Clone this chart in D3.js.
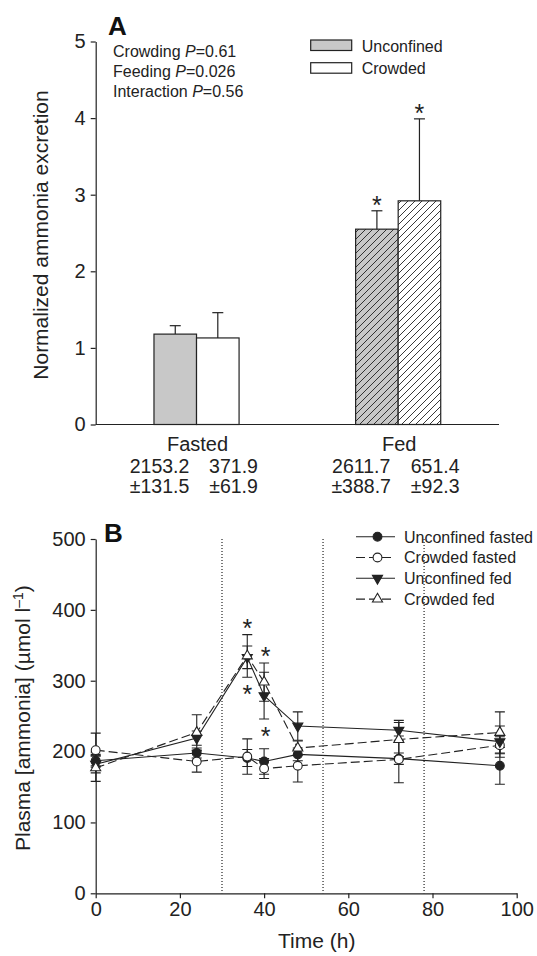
<!DOCTYPE html>
<html>
<head>
<meta charset="utf-8">
<script src="https://cdn.jsdelivr.net/npm/d3@7"></script>
<style>
body { margin: 0; background: #fff; }
svg { display: block; font-family: "Liberation Sans", Arial, sans-serif; }
</style>
</head>
<body>
<div id="chart"></div>
<script>
// ---- panel A data
const groups = ["Fasted", "Fed"];
const treatments = ["Unconfined", "Crowded"];
const unconfinedMean = [1.18, 2.55];
const unconfinedErr = [0.11, 0.24];
const crowdedMean = [1.13, 2.92];
const crowdedErr = [0.33, 1.07];
const starredA = [[false, false], [true, true]];
const absMean = [["2153.2", "371.9"], ["2611.7", "651.4"]];
const absSem = [["±131.5", "±61.9"], ["±388.7", "±92.3"]];
const statsA = [["Crowding", "0.61"], ["Feeding", "0.026"], ["Interaction", "0.56"]];
const yTicksA = [0, 1, 2, 3, 4, 5];

// ---- panel B data
const times = [0, 24, 36, 40, 48, 72, 96];
const seriesNames = ["Unconfined fasted", "Crowded fasted", "Unconfined fed", "Crowded fed"];
const unconfinedFasted = [187, 198, 191, 186, 196, 190, 180];
const unconfinedFastedSem = [7, 7, 12, 18, 9, 8, 26];
const crowdedFasted = [202, 186, 193, 176, 180, 189, 209];
const crowdedFastedSem = [24, 15, 25, 14, 23, 33, 12];
const unconfinedFed = [182, 219, 333, 279, 236, 230, 214];
const unconfinedFedSem = [12, 10, 16, 33, 20, 14, 22];
const crowdedFed = [177, 227, 335, 298, 205, 217, 227];
const crowdedFedSem = [19, 25, 30, 27, 10, 24, 29];
const mealTimes = [30, 54, 78];
const xTicksB = [0, 20, 40, 60, 80, 100];
const yTicksB = [0, 100, 200, 300, 400, 500];
// [time, series index, side]
const starsB = [[36, 3, "up"], [36, 3, "down"], [40, 3, "up"], [40, 2, "down"]];

const ink = "#222";
const width = 537, height = 956;

const svg = d3.select("#chart").append("svg")
    .attr("width", width)
    .attr("height", height);

const defs = svg.append("defs");
function hatch(id, bg) {
  const w = 7;
  const p = defs.append("pattern")
      .attr("id", id)
      .attr("patternUnits", "userSpaceOnUse")
      .attr("width", w).attr("height", w);
  p.append("rect").attr("width", w).attr("height", w).attr("fill", bg);
  p.append("path")
      .attr("d", `M0,${w} L${w},0 M${-w/2},${w/2} L${w/2},${-w/2} M${w/2},${w*1.5} L${w*1.5},${w/2}`)
      .attr("stroke", ink).attr("stroke-width", 0.9);
}
hatch("hatchGrey", "#c8c8c8");
hatch("hatchWhite", "#fff");

function styleAxis(g) {
  g.attr("font-family", null).attr("font-size", null);
  g.selectAll("path, line").attr("stroke", ink).attr("stroke-width", 1.2);
  g.selectAll("text").attr("fill", ink).style("font-size", "20px");
}

// ================= Panel A
const A = {left: 95.7, right: 499, top: 41.5, bottom: 424.5};

const xA = d3.scaleBand()
    .domain(groups)
    .range([A.left, A.right])
    .paddingInner(0.578)
    .paddingOuter(0.289);
const xInner = d3.scaleBand()
    .domain(treatments)
    .range([0, xA.bandwidth()]);
const yA = d3.scaleLinear()
    .domain([0, 5])
    .range([A.bottom, A.top]);

svg.append("g")
    .attr("transform", `translate(${A.left},0)`)
    .call(d3.axisLeft(yA).tickValues(yTicksA).tickFormat(d3.format("d"))
        .tickSize(5).tickSizeOuter(0).tickPadding(5))
    .call(styleAxis);

svg.append("line")
    .attr("x1", A.left).attr("x2", A.right)
    .attr("y1", A.bottom).attr("y2", A.bottom)
    .attr("stroke", ink).attr("stroke-width", 1.2);

const barsA = [];
groups.forEach((g, i) => {
  barsA.push({group: g, trt: "Unconfined", v: unconfinedMean[i], e: unconfinedErr[i], star: starredA[i][0], fed: g === "Fed"});
  barsA.push({group: g, trt: "Crowded", v: crowdedMean[i], e: crowdedErr[i], star: starredA[i][1], fed: g === "Fed"});
});

function barFill(d) {
  if (d.trt === "Unconfined") return d.fed ? "url(#hatchGrey)" : "#c8c8c8";
  return d.fed ? "url(#hatchWhite)" : "#fff";
}

const barG = svg.append("g");
barG.selectAll("rect")
    .data(barsA)
    .enter()
    .append("rect")
    .attr("x", d => xA(d.group) + xInner(d.trt))
    .attr("y", d => yA(d.v))
    .attr("width", xInner.bandwidth())
    .attr("height", d => yA(0) - yA(d.v))
    .attr("fill", barFill)
    .attr("stroke", ink)
    .attr("stroke-width", 1.2);

const cx = d => xA(d.group) + xInner(d.trt) + xInner.bandwidth() / 2;
barG.selectAll("line.err")
    .data(barsA)
    .enter()
    .append("line")
    .attr("x1", cx).attr("x2", cx)
    .attr("y1", d => yA(d.v)).attr("y2", d => yA(d.v + d.e))
    .attr("stroke", ink).attr("stroke-width", 1.2);
barG.selectAll("line.cap")
    .data(barsA)
    .enter()
    .append("line")
    .attr("x1", d => cx(d) - 5.5).attr("x2", d => cx(d) + 5.5)
    .attr("y1", d => yA(d.v + d.e)).attr("y2", d => yA(d.v + d.e))
    .attr("stroke", ink).attr("stroke-width", 1.2);
barG.selectAll("text.star")
    .data(barsA.filter(d => d.star))
    .enter()
    .append("text")
    .attr("x", cx)
    .attr("y", d => yA(d.v + d.e) + 3)
    .attr("text-anchor", "middle")
    .attr("fill", ink)
    .style("font-size", "25px")
    .text("*");

// category labels and absolute values
groups.forEach((g, i) => {
  const c = xA(g) + xA.bandwidth() / 2;
  svg.append("text").attr("x", c + 1).attr("y", 451)
      .attr("text-anchor", "middle").attr("fill", ink).style("font-size", "20px").text(g);
  [-37, 37].forEach((off, j) => {
    svg.append("text").attr("x", c + off).attr("y", 472.5)
        .attr("text-anchor", "middle").attr("fill", ink).style("font-size", "19.5px").text(absMean[i][j]);
    svg.append("text").attr("x", c + off).attr("y", 492.5)
        .attr("text-anchor", "middle").attr("fill", ink).style("font-size", "19.5px").text(absSem[i][j]);
  });
});

// stats
statsA.forEach((s, i) => {
  const t = svg.append("text").attr("x", 113).attr("y", 56.5 + i * 20.3)
      .attr("fill", ink).style("font-size", "16px");
  t.append("tspan").text(s[0] + " ");
  t.append("tspan").style("font-style", "italic").text("P");
  t.append("tspan").text("=" + s[1]);
});

// legend A
treatments.forEach((t, i) => {
  svg.append("rect").attr("x", 310.7).attr("y", 40 + i * 22.7)
      .attr("width", 41).attr("height", 10.5)
      .attr("fill", i === 0 ? "#c8c8c8" : "#fff")
      .attr("stroke", ink).attr("stroke-width", 1.2);
  svg.append("text").attr("x", 361.7).attr("y", 51.5 + i * 22.7)
      .attr("fill", ink).style("font-size", "16px").text(t);
});

svg.append("text").attr("x", 108).attr("y", 35)
    .attr("fill", "#111").style("font-size", "26px").style("font-weight", "bold").text("A");

svg.append("text")
    .attr("transform", `translate(48,${(A.top + A.bottom) / 2 + 2}) rotate(-90)`)
    .attr("text-anchor", "middle").attr("fill", ink).style("font-size", "21px")
    .text("Normalized ammonia excretion");

// ================= Panel B
const B = {left: 95.7, right: 516.7, top: 539, bottom: 893.3};
const xB = d3.scaleLinear().domain([0, 100]).range([B.left, B.right]);
const yB = d3.scaleLinear().domain([0, 500]).range([B.bottom, B.top]);

svg.append("g")
    .attr("transform", `translate(${B.left},0)`)
    .call(d3.axisLeft(yB).tickValues(yTicksB).tickSize(5).tickSizeOuter(0).tickPadding(5))
    .call(styleAxis);
svg.append("g")
    .attr("transform", `translate(0,${B.bottom})`)
    .call(d3.axisBottom(xB).tickValues(xTicksB).tickSize(5).tickSizeOuter(0).tickPadding(4))
    .call(styleAxis);

svg.append("g").selectAll("line")
    .data(mealTimes)
    .enter()
    .append("line")
    .attr("x1", d => xB(d)).attr("x2", d => xB(d))
    .attr("y1", yB(500)).attr("y2", yB(0))
    .attr("stroke", ink).attr("stroke-width", 1.2)
    .attr("stroke-dasharray", "1,2");

const means = [unconfinedFasted, crowdedFasted, unconfinedFed, crowdedFed];
const sems = [unconfinedFastedSem, crowdedFastedSem, unconfinedFedSem, crowdedFedSem];
const dashed = [false, true, false, true];
const markerType = ["circle", "circle", "down", "up"];
const markerFill = [ink, "#fff", ink, "#fff"];

const line = d3.line().x(d => xB(d.t)).y(d => yB(d.v));
const pts = means.map((m, s) => times.map((t, i) => ({t: t, v: m[i], e: sems[s][i], s: s})));

const lineG = svg.append("g");
pts.forEach((p, s) => {
  lineG.append("path")
      .attr("d", line(p))
      .attr("fill", "none")
      .attr("stroke", ink).attr("stroke-width", 1.1)
      .attr("stroke-dasharray", dashed[s] ? "9,4" : null);
});

const errG = svg.append("g");
pts.forEach(p => {
  errG.selectAll(null)
      .data(p)
      .enter()
      .append("path")
      .attr("d", d => {
        const x = xB(d.t), y1 = yB(d.v - d.e), y2 = yB(d.v + d.e);
        return `M${x},${y1}V${y2}M${x - 5},${y1}H${x + 5}M${x - 5},${y2}H${x + 5}`;
      })
      .attr("fill", "none")
      .attr("stroke", ink).attr("stroke-width", 1.1);
});

function marker(sel, s) {
  if (markerType[s] === "circle") {
    sel.append("circle").attr("r", 4.4);
  } else {
    sel.append("path")
        .attr("d", d3.symbol().type(d3.symbolTriangle).size(44))
        .attr("transform", markerType[s] === "down" ? "rotate(180)" : null);
  }
  sel.selectAll("circle, path")
      .attr("fill", markerFill[s])
      .attr("stroke", ink).attr("stroke-width", 1.1);
}

const markG = svg.append("g");
pts.forEach((p, s) => {
  p.forEach(d => {
    const g = markG.append("g").attr("transform", `translate(${xB(d.t)},${yB(d.v)})`);
    marker(g, s);
  });
});

starsB.forEach(([t, s, side]) => {
  const i = times.indexOf(t);
  const v = side === "up" ? means[s][i] + sems[s][i] : means[s][i] - sems[s][i];
  const cy = side === "up" ? yB(v) - 12 : yB(v) + 12;
  svg.append("text")
      .attr("x", xB(t) + (t === 40 ? 1.5 : 0))
      .attr("y", cy + 14)
      .attr("text-anchor", "middle")
      .attr("fill", ink).style("font-size", "25px")
      .text("*");
});

// legend B
seriesNames.forEach((n, s) => {
  const y = 536.7 + s * 20.8;
  svg.append("line").attr("x1", 356).attr("x2", 395).attr("y1", y).attr("y2", y)
      .attr("stroke", ink).attr("stroke-width", 1.1)
      .attr("stroke-dasharray", dashed[s] ? "9,4" : null);
  const g = svg.append("g").attr("transform", `translate(377.5,${y})`);
  marker(g, s);
  svg.append("text").attr("x", 404).attr("y", y + 5.8)
      .attr("fill", ink).style("font-size", "16px").text(n);
});

svg.append("text").attr("x", 104).attr("y", 541.5)
    .attr("fill", "#111").style("font-size", "26px").style("font-weight", "bold").text("B");

const yl = svg.append("text")
    .attr("transform", `translate(30,${(B.top + B.bottom) / 2 + 2}) rotate(-90)`)
    .attr("text-anchor", "middle").attr("fill", ink).style("font-size", "21px");
yl.append("tspan").text("Plasma [ammonia] (µmol l");
yl.append("tspan").attr("dy", -7).style("font-size", "14px").text("–1");
yl.append("tspan").attr("dy", 7).text(")");

svg.append("text").attr("x", 316.7).attr("y", 948)
    .attr("text-anchor", "middle").attr("fill", ink).style("font-size", "21px")
    .text("Time (h)");
</script>
</body>
</html>
